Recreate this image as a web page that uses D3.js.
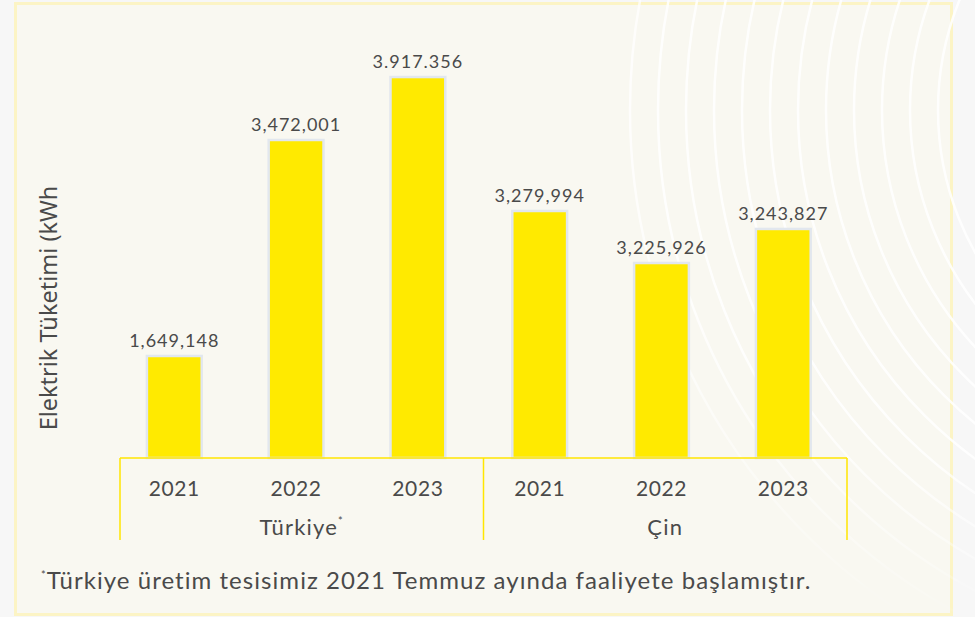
<!DOCTYPE html>
<html>
<head>
<meta charset="utf-8">
<script src="https://cdn.jsdelivr.net/npm/d3@7"></script>
<style>
  body { margin: 0; background: #f7f7f7; }
  svg { display: block; }
</style>
</head>
<body>
<script>
var countries = ["Türkiye", "Çin"];
var years = ["2021", "2022", "2023"];
// printed figures, as written on the source (note the dotted one)
var valueLabels = ["1,649,148", "3,472,001", "3.917.356", "3,279,994", "3,225,926", "3,243,827"];
var barLevels = [1049000, 3270000, 3917356, 2540000, 2005000, 2355000];
var yTitle = "Elektrik Tüketimi (kWh";
var footnote = "Türkiye üretim tesisimiz 2021 Temmuz ayında faaliyete başlamıştır.";

function build() {
  var width = 975, height = 617;
  var baseY = 458;
  var textColor = "#4a4a4a";

  var rows = barLevels.map(function(v, i) {
    return { i: i, country: countries[Math.floor(i / 3)], year: years[i % 3], level: v, label: valueLabels[i] };
  });

  var svg = d3.select("body").append("svg").attr("width", width).attr("height", height);
  var defs = svg.append("defs");

  // panel
  svg.append("rect")
    .attr("x", 15.5).attr("y", 3.5).attr("width", 936).attr("height", 611)
    .attr("fill", "#f9f8f1").attr("stroke", "#fcf4c5").attr("stroke-width", 3);

  // faint decorative arcs, faded out towards the chart
  var rg = defs.append("radialGradient")
    .attr("id", "arcFade").attr("gradientUnits", "userSpaceOnUse")
    .attr("cx", 990).attr("cy", 110).attr("r", 520);
  rg.append("stop").attr("offset", 0).attr("stop-color", "#fff");
  rg.append("stop").attr("offset", 0.65).attr("stop-color", "#fff");
  rg.append("stop").attr("offset", 1).attr("stop-color", "#000");
  defs.append("mask").attr("id", "arcMask")
    .append("rect").attr("width", width).attr("height", height).attr("fill", "url(#arcFade)");

  svg.append("g").attr("mask", "url(#arcMask)")
    .selectAll("circle")
    .data(d3.range(12))
    .enter().append("circle")
    .attr("cx", 1230).attr("cy", 110)
    .attr("r", function(d) { return 600 - d * 28; })
    .attr("fill", "none")
    .attr("stroke", "#ffffff")
    .attr("stroke-opacity", 0.85)
    .attr("stroke-width", 2.5);

  var x = d3.scaleBand().domain(d3.range(rows.length)).range([113.4, 844.2])
    .paddingInner(0.55).paddingOuter(0.275);
  var xg = d3.scaleBand().domain(countries).range([120, 847]);
  var y = d3.scaleLinear().domain([0, 4000000]).range([baseY, 69]);

  // bars
  svg.append("g").selectAll("rect")
    .data(rows)
    .enter().append("rect")
    .attr("x", function(d) { return x(d.i); })
    .attr("y", function(d) { return y(d.level); })
    .attr("width", x.bandwidth())
    .attr("height", function(d) { return baseY - y(d.level); })
    .attr("fill", "#ffea00")
    .attr("stroke", "#e2e7ee")
    .attr("stroke-width", 2.5);

  // value labels
  svg.append("g").selectAll("text")
    .data(rows)
    .enter().append("text")
    .attr("x", function(d) { return x(d.i) + x.bandwidth() / 2; })
    .attr("y", function(d) { return y(d.level) - 9; })
    .attr("text-anchor", "middle")
    .attr("font-family", "Lato, sans-serif")
    .attr("font-size", 18)
    .attr("letter-spacing", 1)
    .attr("fill", textColor)
    .text(function(d) { return d.label; });

  // axis lines
  var axis = svg.append("g").attr("stroke", "#ffe600").attr("stroke-width", 1.5);
  axis.append("line").attr("x1", xg.range()[0]).attr("x2", xg.range()[1])
    .attr("y1", baseY).attr("y2", baseY);
  axis.selectAll(".sep")
    .data([xg(countries[0]), xg(countries[1]), xg.range()[1]])
    .enter().append("line")
    .attr("x1", function(d) { return d; }).attr("x2", function(d) { return d; })
    .attr("y1", baseY).attr("y2", 540);

  // year ticks
  svg.append("g").selectAll("text")
    .data(rows)
    .enter().append("text")
    .attr("x", function(d) { return x(d.i) + x.bandwidth() / 2; })
    .attr("y", 496)
    .attr("text-anchor", "middle")
    .attr("font-family", "Lato, sans-serif")
    .attr("font-size", 21)
    .attr("letter-spacing", 0.6)
    .attr("fill", textColor)
    .text(function(d) { return d.year; });

  // country labels
  var cl = svg.append("g").selectAll("text")
    .data(countries)
    .enter().append("text")
    .attr("x", function(d) { return xg(d) + xg.bandwidth() / 2; })
    .attr("y", 535)
    .attr("text-anchor", "middle")
    .attr("font-family", "Lato, sans-serif")
    .attr("font-size", 22)
    .attr("letter-spacing", 1.2)
    .attr("fill", textColor);
  cl.append("tspan").text(function(d) { return d; });
  cl.filter(function(d, i) { return i === 0; })
    .append("tspan").attr("dy", -10).attr("font-size", 11).text("*");

  // y title
  svg.append("text")
    .attr("transform", "translate(57,308) rotate(-90)")
    .attr("text-anchor", "middle")
    .attr("font-family", "'Noto Sans', sans-serif")
    .attr("font-size", 23.5)
    .attr("fill", textColor)
    .text(yTitle);

  // footnote
  var fn = svg.append("text")
    .attr("x", 41).attr("y", 589)
    .attr("font-family", "Lato, sans-serif")
    .attr("font-size", 24)
    .attr("letter-spacing", 1.05)
    .attr("fill", textColor);
  fn.append("tspan").attr("font-size", 11).attr("dy", -10).text("*");
  fn.append("tspan").attr("dy", 10).text(footnote);
}

build();
</script>
</body>
</html>
